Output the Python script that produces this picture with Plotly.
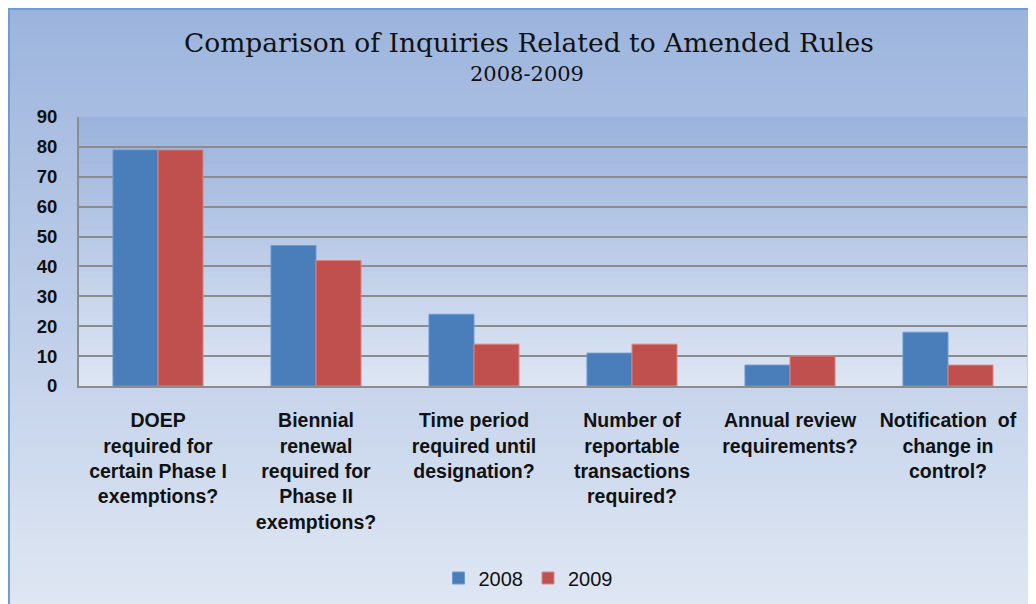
import plotly.graph_objects as go

categories = [
    "DOEP<br>required for<br>certain Phase I<br>exemptions?",
    "Biennial<br>renewal<br>required for<br>Phase II<br>exemptions?",
    "Time period<br>required until<br>designation?",
    "Number of<br>reportable<br>transactions<br>required?",
    "Annual review<br>requirements?",
    "Notification  of<br>change in<br>control?",
]
values_2008 = [79, 47, 24, 11, 7, 18]
values_2009 = [79, 42, 14, 14, 10, 7]
y_ticks = [0, 10, 20, 30, 40, 50, 60, 70, 80, 90]

# page body has an 8px margin; work in screen pixels and convert
OFF = 8
W, H = 1036 - OFF, 604 - OFF
PL, PR, PT, PB = 79, 1027, 117, 386  # plot area in screen px
L, R, T, B = PL - OFF, W - (PR - OFF), PT - OFF, H - (PB - OFF)
PW, PH = PR - PL, PB - PT


def px_x(px):
    return (px - PL) / PW


def px_y(py):
    return (PB - py) / PH


def lerp(c1, c2, t):
    return "rgb(%d,%d,%d)" % tuple(round(a + (b - a) * t) for a, b in zip(c1, c2))


shapes = []
# outer chart-area gradient
top_c, bot_c = (156, 180, 221), (223, 231, 243)
n = 70
y0p, y1p = 8, 610
for i in range(n):
    a = y0p + (y1p - y0p) * i / n
    b = y0p + (y1p - y0p) * (i + 1) / n + 0.8
    shapes.append(dict(type="rect", xref="paper", yref="paper", layer="below",
                       x0=px_x(8), x1=px_x(1045), y0=px_y(b), y1=px_y(a),
                       fillcolor=lerp(top_c, bot_c, (i + 0.5) / n), line=dict(width=0)))
# plot-area gradient
ptop, pbot = (154, 178, 220), (222, 230, 243)
m = 40
for i in range(m):
    a = i / m
    b = (i + 1) / m
    shapes.append(dict(type="rect", xref="paper", yref="paper", layer="below",
                       x0=0, x1=1, y0=1 - b - 0.003, y1=1 - a,
                       fillcolor=lerp(ptop, pbot, (i + 0.5) / m), line=dict(width=0)))
# outer border
shapes.append(dict(type="rect", xref="paper", yref="paper", layer="below",
                   x0=px_x(9), x1=px_x(1050), y0=px_y(620), y1=px_y(9),
                   fillcolor="rgba(0,0,0,0)", line=dict(color="#6f9bd8", width=2)))

fig = go.Figure()
fig.add_trace(go.Bar(x=categories, y=values_2008, name="2008",
                     marker=dict(color="#4a7ebb", line=dict(color="#6d9ad3", width=1))))
fig.add_trace(go.Bar(x=categories, y=values_2009, name="2009",
                     marker=dict(color="#c0504d", line=dict(color="#dd8583", width=1))))

fig.update_layout(
    width=W, height=H,
    margin=dict(l=L, r=R, t=T, b=B, autoexpand=False),
    paper_bgcolor="rgb(223,231,243)",
    plot_bgcolor="rgba(0,0,0,0)",
    barmode="group",
    bargap=0.43,
    bargroupgap=0,
    shapes=shapes,
    showlegend=True,
    legend=dict(orientation="h", x=px_x(528), xanchor="center", y=px_y(578), yanchor="middle",
                font=dict(family="Liberation Sans, Arial", size=20, color="#111"),
                bgcolor="rgba(0,0,0,0)", itemwidth=30, traceorder="normal"),
    annotations=[
        dict(text="Comparison of Inquiries Related to Amended Rules", xref="paper", yref="paper",
             x=px_x(529), y=px_y(42), showarrow=False, xanchor="center", yanchor="middle",
             font=dict(family="DejaVu Serif", size=26.5, color="#111")),
        dict(text="2008-2009", xref="paper", yref="paper",
             x=px_x(527), y=px_y(74), showarrow=False, xanchor="center", yanchor="middle",
             font=dict(family="DejaVu Serif", size=21, color="#111")),
    ],
    xaxis=dict(
        showgrid=False, showline=True, linecolor="#8c8c8c", linewidth=2,
        tickfont=dict(family="Liberation Sans, Arial", size=19.5, color="#111", weight="bold"),
        ticks="outside", ticklen=16, tickcolor="rgba(0,0,0,0)", tickangle=0,
        automargin=False,
    ),
    yaxis=dict(
        range=[0, 90], tickvals=y_ticks, showgrid=True, gridcolor="#8c8c8c", gridwidth=2,
        showline=True, linecolor="#8c8c8c", linewidth=2, zeroline=False,
        tickfont=dict(family="Liberation Sans, Arial", size=18.5, color="#111", weight="bold"),
        ticks="outside", ticklen=16, tickcolor="rgba(0,0,0,0)",
        automargin=False,
    ),
)

fig.write_html("out.html")
